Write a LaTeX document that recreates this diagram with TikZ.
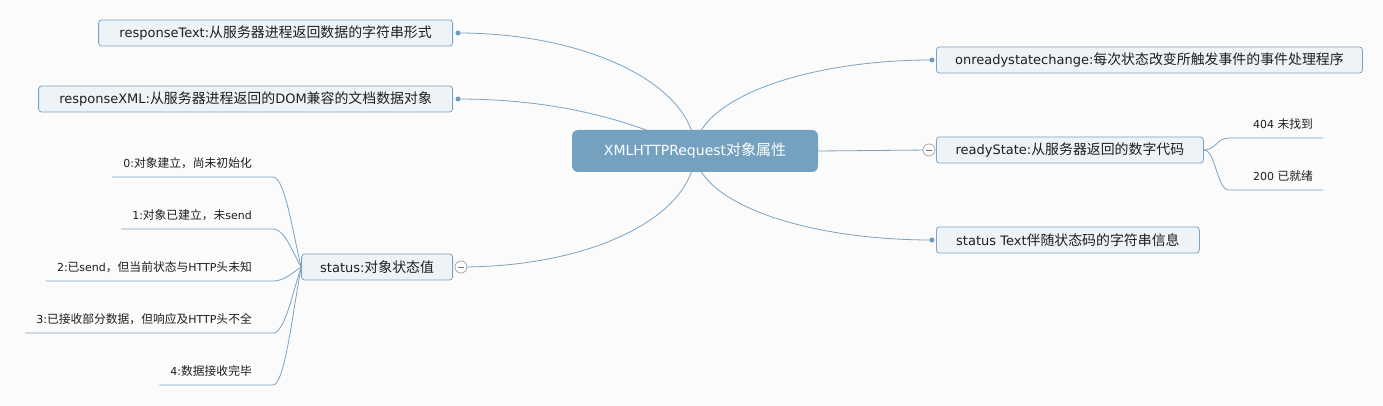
\documentclass[tikz,border=0pt]{standalone}
\usepackage{fontspec}
\setmainfont{DejaVu Sans}
\newfontfamily\cjk[Scale=1.07]{Noto Sans CJK SC}
\newcommand{\zh}[1]{{\cjk #1}}
\usetikzlibrary{backgrounds, calc}
\definecolor{paper}{HTML}{FBFBFB}
\definecolor{ink}{HTML}{1E1E1E}
\definecolor{mapline}{HTML}{7BA3C3}
\definecolor{topicfill}{HTML}{EEF3F7}
\definecolor{rootfill}{HTML}{74A1C0}
\definecolor{mapdot}{HTML}{6F9BC0}
\definecolor{foldgray}{HTML}{A8A8A8}
\tikzset{
  map_font/.style = {font=\fontsize{13}{15}\selectfont},
  leaf_font/.style = {font=\fontsize{11}{13}\selectfont},
  root_font/.style = {font=\fontsize{14}{16}\selectfont}
}
\tikzset{
  root/.style = {root_font, fill=rootfill, text=white, rounded corners=6, minimum width=246, minimum height=42, inner sep=0},
  topic/.style = {map_font, draw=mapline, fill=topicfill, text=ink, rounded corners=3, minimum height=26, inner sep=0, line width=0.8},
  leaf/.style = {leaf_font, text=ink, inner xsep=11, inner ysep=8, anchor=south east},
  link/.style = {draw=mapline, line width=0.8},
  dot/.style = {circle, fill=mapdot, inner sep=0, minimum size=5},
  fold/.style = {circle, draw=foldgray, fill=white, inner sep=0, minimum size=12, line width=0.8,
    path picture={\draw[foldgray!70!black, line width=0.8] ([xshift=3]path picture bounding box.west) -- ([xshift=-3]path picture bounding box.east);}},
  keep_left/.style = {anchor=west},
  keep_right/.style = {anchor=east}
}

\begin{document}
\begin{tikzpicture}[x=1pt, y=-1pt]
        \useasboundingbox (0,0) rectangle (1383,406);
        \begin{scope}[on background layer]
            \fill[paper] (0,0) rectangle (1383,406);
        \end{scope}

        % Central topic
        \node[root] (root) at (695,151) {XMLHTTPRequest\zh{对象属性}};

        % Left topics
        \node[topic, keep_right, minimum width=354] (resp_text) at (453,33) {
            responseText:\zh{从服务器进程返回数据的字符串形式}};
        \node[topic, keep_right, minimum width=414] (resp_xml) at (453,99) {
            responseXML:\zh{从服务器进程返回的}DOM\zh{兼容的文档数据对象}};
        \node[topic, keep_right, minimum width=151] (status) at (453,267) {
            status:\zh{对象状态值}};

        % Right topics
        \node[topic, keep_left, minimum width=426] (on_change) at (936,60) {
            onreadystatechange:\zh{每次状态改变所触发事件的事件处理程序}};
        \node[topic, keep_left, minimum width=267] (ready) at (936,150) {
            readyState:\zh{从服务器返回的数字代码}};
        \node[topic, keep_left, minimum width=263] (status_text) at (936,240) {
            status Text\zh{伴随状态码的字符串信息}};

        % Dots and fold marks
        \node[dot] (d_text) at ([xshift=5]resp_text.east) {};
        \node[dot] (d_xml) at ([xshift=5]resp_xml.east) {};
        \node[fold] (f_status) at ([xshift=8]status.east) {};
        \node[dot] (d_change) at ([xshift=-4]on_change.west) {};
        \node[fold] (f_ready) at ([xshift=-7]ready.west) {};
        \node[dot] (d_stext) at ([xshift=-4]status_text.west) {};

        % Status values
        \node[leaf] (s_0) at (263,177) {0:\zh{对象建立，尚未初始化}};
        \node[leaf] (s_1) at (263,229) {1:\zh{对象已建立，未}send};
        \node[leaf] (s_2) at (263,281) {2:\zh{已}send\zh{，但当前状态与}HTTP\zh{头未知}};
        \node[leaf] (s_3) at (263,333) {3:\zh{已接收部分数据，但响应及}HTTP\zh{头不全}};
        \node[leaf] (s_4) at (263,385) {4:\zh{数据接收完毕}};

        % Ready states
        \node[leaf, inner xsep=10] (r_1) at (1323,138) {404 \zh{未找到}};
        \node[leaf, inner xsep=10] (r_2) at (1323,190) {200 \zh{已就绪}};

        % Connectors
        \begin{scope}[on background layer]
            \draw[link] (d_text.center) .. controls +(131,0) and +(0,-65) .. (root.center);
            \draw[link] (d_xml.center) .. controls +(100,0) and +(-60,-30) .. (root.center);
            \draw[link] (f_status.center) .. controls +(131,0) and +(0,65) .. (root.center);
            \draw[link] (d_change.center) .. controls +(-131,0) and +(0,-50) .. (root.center);
            \draw[link] (d_stext.center) .. controls +(-131,0) and +(0,50) .. (root.center);
            \draw[link] (root.east) -- (f_ready.center);

            \foreach \k/\dy in {0/-32, 1/-13, 2/5, 3/23, 4/41}
                \draw[link] (s_\k.south west) -- (s_\k.south east) -- ++(10,0)
                    .. controls +(12,0) and +(-8,\dy) .. (status.west);

            \draw[link] (ready.east) .. controls +(12,0) and +(-12,0) .. ([xshift=-14]r_1.south west) -- (r_1.south east);
            \draw[link] (ready.east) .. controls +(12,0) and +(-12,0) .. ([xshift=-14]r_2.south west) -- (r_2.south east);
        \end{scope}
\end{tikzpicture}
\end{document}
